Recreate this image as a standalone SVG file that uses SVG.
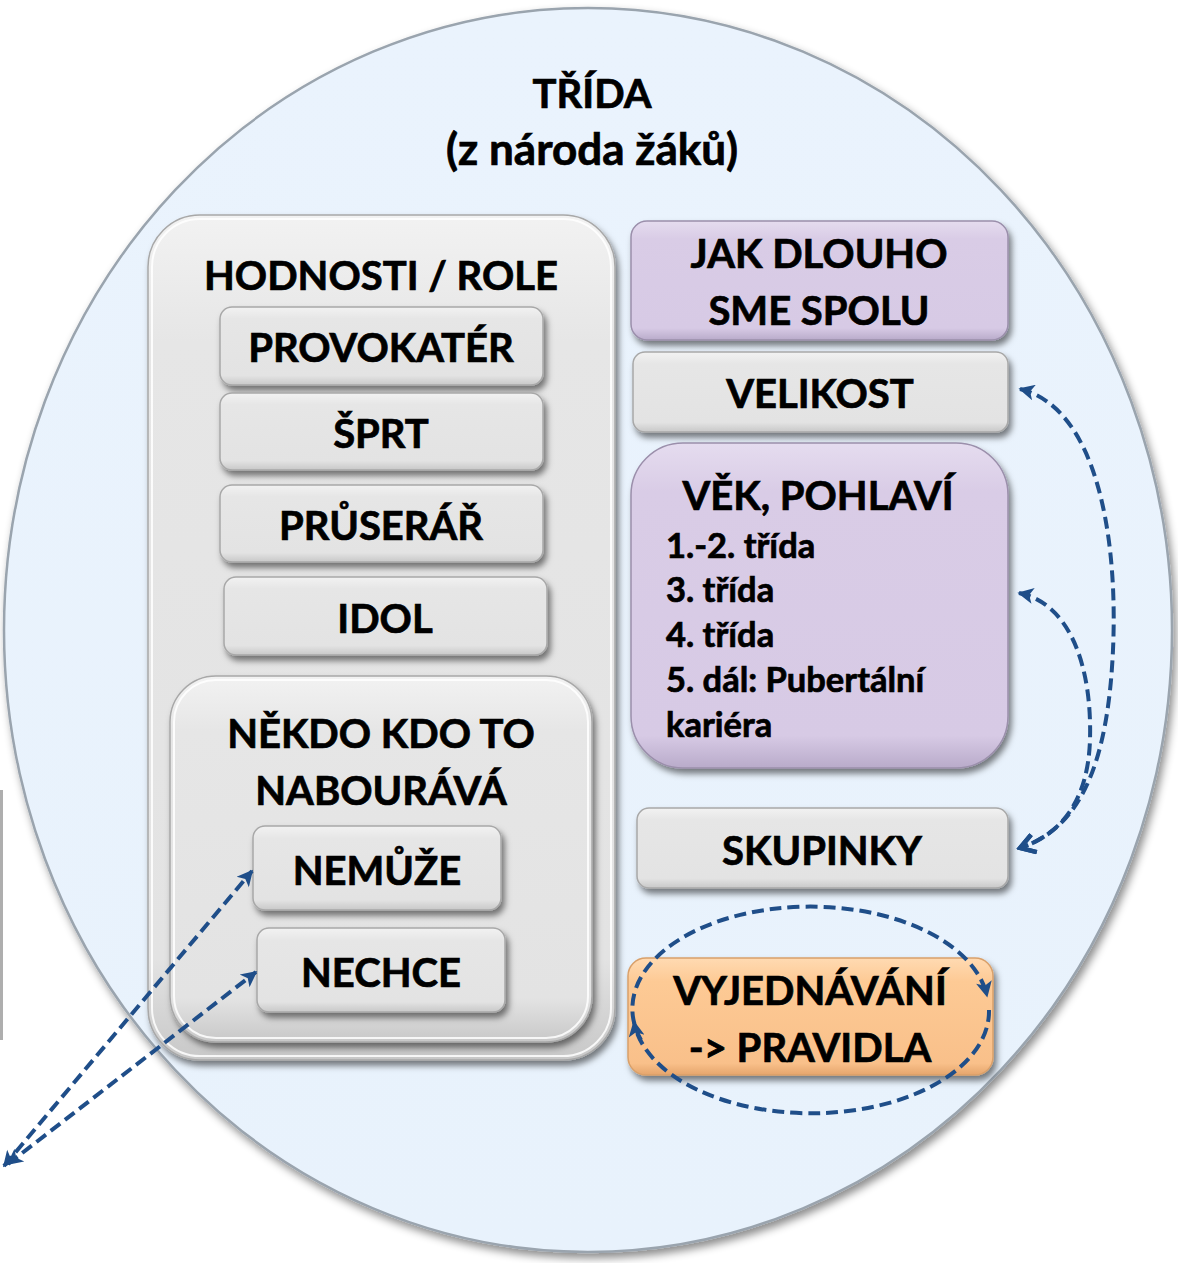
<svg xmlns="http://www.w3.org/2000/svg" width="1178" height="1263" viewBox="0 0 1178 1263">
<defs>
<style>
text{font-family:Lato,"Open Sans","DejaVu Sans",sans-serif;font-weight:bold;fill:#000;stroke:#000;stroke-width:0.7;}
.t{font-size:40px;text-anchor:middle;}
.h{font-size:44px;text-anchor:middle;}
.s{font-size:34.5px;}
.gray{fill:url(#gGray);stroke:#a8a8a8;stroke-width:1.5;}
.purp{fill:url(#gPurp);stroke:#9b8fab;stroke-width:1.5;}
.oran{fill:url(#gOran);stroke:#d9a06a;stroke-width:1.5;}
.hl{fill:none;stroke:#ffffff;stroke-width:2;opacity:0.85;}
.con{fill:none;stroke:#1f4e89;stroke-width:4;stroke-dasharray:12 6;}
</style>
<linearGradient id="gGray" x1="0" y1="0" x2="0" y2="1">
<stop offset="0" stop-color="#f2f2f2"/><stop offset="0.15" stop-color="#e6e6e6"/><stop offset="0.88" stop-color="#e3e3e3"/><stop offset="1" stop-color="#c8c8c8"/>
</linearGradient>
<linearGradient id="gPurp" x1="0" y1="0" x2="0" y2="1">
<stop offset="0" stop-color="#e5dcef"/><stop offset="0.15" stop-color="#d9cce6"/><stop offset="0.9" stop-color="#d7cae5"/><stop offset="1" stop-color="#b9abca"/>
</linearGradient>
<linearGradient id="gOran" x1="0" y1="0" x2="0" y2="1">
<stop offset="0" stop-color="#ffdab2"/><stop offset="0.2" stop-color="#fdca95"/><stop offset="0.9" stop-color="#f9c08a"/><stop offset="1" stop-color="#e5a56c"/>
</linearGradient>
<linearGradient id="gEll" x1="0" y1="0" x2="0" y2="1">
<stop offset="0" stop-color="#eaf3fd"/><stop offset="1" stop-color="#e8f2fc"/>
</linearGradient>
<filter id="sh" x="-10%" y="-10%" width="125%" height="130%">
<feDropShadow dx="3" dy="5" stdDeviation="3" flood-color="#000" flood-opacity="0.5"/>
</filter>
<filter id="shE" x="-5%" y="-5%" width="112%" height="112%">
<feDropShadow dx="3" dy="5" stdDeviation="4" flood-color="#000" flood-opacity="0.45"/>
</filter>
<marker id="ah" viewBox="0 0 10 10" refX="9" refY="5" markerWidth="19" markerHeight="16" markerUnits="userSpaceOnUse" orient="auto-start-reverse">
<path d="M0,0 L10,5 L0,10 L2.5,5 Z" fill="#1f4e89"/>
</marker>
<marker id="chev" viewBox="0 0 12 12" refX="10" refY="6" markerWidth="22" markerHeight="22" markerUnits="userSpaceOnUse" orient="auto">
<path d="M2,1 L10,6 L2,11" fill="none" stroke="#1f4e89" stroke-width="2.4"/>
</marker>
</defs>

<rect x="0" y="790" width="3" height="250" fill="#9a9a9a" opacity="0.8"/>

<g id="trida">
<ellipse cx="588" cy="630" rx="584" ry="622" fill="url(#gEll)" stroke="#9aa4ae" stroke-width="2.5" filter="url(#shE)"/>
<text class="t" x="592" y="108">TŘÍDA</text>
<text class="h" x="592" y="165">(z národa žáků)</text>
</g>

<g id="hodnosti">
<rect x="148" y="215" width="467" height="845" rx="52" class="gray" filter="url(#sh)"/>
<rect x="152" y="219" width="459" height="837" rx="48" class="hl"/>
<text class="t" x="381" y="290">HODNOSTI / ROLE</text>
</g>

<g id="provokater">
<rect x="220" y="307" width="323" height="78" rx="12" class="gray" filter="url(#sh)"/>
<text class="t" x="381" y="362">PROVOKATÉR</text>
</g>
<g id="sprt">
<rect x="220" y="393" width="323" height="77" rx="12" class="gray" filter="url(#sh)"/>
<text class="t" x="381" y="448">ŠPRT</text>
</g>
<g id="pruserar">
<rect x="220" y="485" width="323" height="77" rx="12" class="gray" filter="url(#sh)"/>
<text class="t" x="381" y="540">PRŮSERÁŘ</text>
</g>
<g id="idol">
<rect x="224" y="577" width="323" height="78" rx="12" class="gray" filter="url(#sh)"/>
<text class="t" x="385" y="633">IDOL</text>
</g>

<g id="nekdo">
<rect x="170" y="676" width="422" height="366" rx="46" class="gray" filter="url(#sh)"/>
<rect x="174" y="680" width="414" height="358" rx="42" class="hl"/>
<text class="t" x="381" y="748">NĚKDO KDO TO</text>
<text class="t" x="381" y="805">NABOURÁVÁ</text>
</g>
<g id="nemuze">
<rect x="253" y="826" width="248" height="84" rx="12" class="gray" filter="url(#sh)"/>
<text class="t" x="377" y="885">NEMŮŽE</text>
</g>
<g id="nechce">
<rect x="257" y="928" width="248" height="84" rx="12" class="gray" filter="url(#sh)"/>
<text class="t" x="381" y="987">NECHCE</text>
</g>

<g id="jakdlouho">
<rect x="631" y="221" width="377" height="119" rx="16" class="purp" filter="url(#sh)"/>
<text class="t" x="819" y="268">JAK DLOUHO</text>
<text class="t" x="819" y="325">SME SPOLU</text>
</g>
<g id="velikost">
<rect x="633" y="352" width="375" height="80" rx="12" class="gray" filter="url(#sh)"/>
<text class="t" x="820" y="408">VELIKOST</text>
</g>
<g id="vek">
<rect x="631" y="443" width="377" height="325" rx="52" class="purp" filter="url(#sh)"/>
<text class="t" x="818" y="510">VĚK, POHLAVÍ</text>
<text class="s" x="666" y="558">1.-2. třída</text>
<text class="s" x="666" y="602">3. třída</text>
<text class="s" x="666" y="647">4. třída</text>
<text class="s" x="666" y="692">5. dál: Pubertální</text>
<text class="s" x="666" y="737">kariéra</text>
</g>
<g id="skupinky">
<rect x="637" y="808" width="371" height="80" rx="12" class="gray" filter="url(#sh)"/>
<text class="t" x="822" y="865">SKUPINKY</text>
</g>
<g id="vyjednavani">
<rect x="628" y="958" width="365" height="117" rx="18" class="oran" filter="url(#sh)"/>
<text class="t" x="810" y="1005">VYJEDNÁVÁNÍ</text>
<text class="t" x="810" y="1062">-&gt; PRAVIDLA</text>
</g>

<g id="connectors">
<path class="con" d="M1020,389 C1098,408 1118,540 1113,650 C1108,760 1082,828 1020,848" marker-start="url(#ah)" marker-end="url(#chev)"/>
<path class="con" d="M1019,593 C1072,604 1092,670 1090,740 C1088,800 1062,834 1020,848" marker-start="url(#ah)" marker-end="url(#chev)"/>
<path class="con" d="M4,1166 L252,871" marker-start="url(#ah)" marker-end="url(#ah)"/>
<path class="con" d="M8,1164 L256,972" marker-start="url(#ah)" marker-end="url(#ah)"/>
<path class="con" d="M641,1040 A178,102 0 1 1 987,996" marker-end="url(#ah)"/>
<path class="con" d="M989,1010 A178,102 0 0 1 634,1022" marker-end="url(#ah)"/>
</g>
</svg>
